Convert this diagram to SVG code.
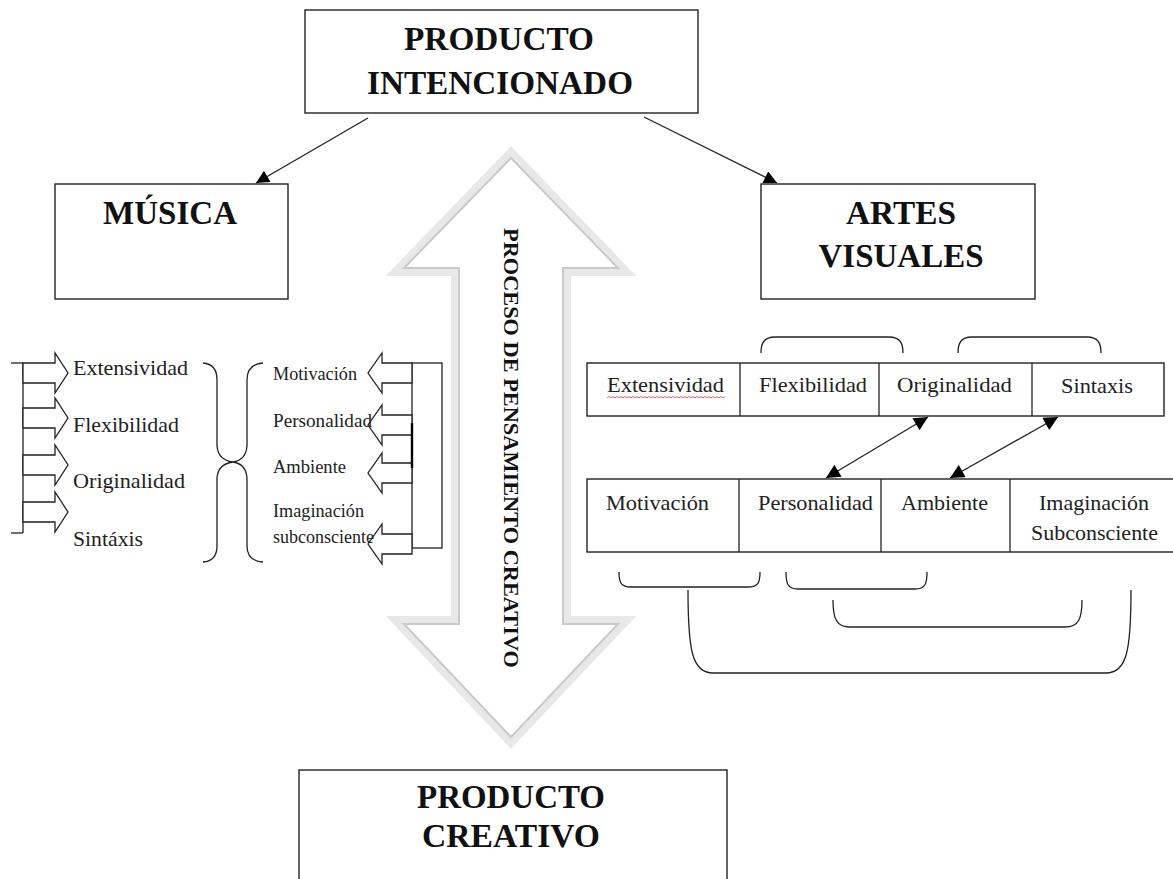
<svg xmlns="http://www.w3.org/2000/svg" width="1173" height="879" viewBox="0 0 1173 879">
<style>
.box{fill:#fff;stroke:#222;stroke-width:1.4}
.ln{fill:none;stroke:#222;stroke-width:1.3}
.blk{fill:#fff;stroke:#222;stroke-width:1.3;stroke-linejoin:miter}
.h{font-family:"Liberation Serif","Times New Roman",serif;font-weight:bold;font-size:34px;fill:#111;text-anchor:middle}
.t{font-family:"Liberation Serif","Times New Roman",serif;font-size:21px;fill:#222}
.s{font-family:"Liberation Serif","Times New Roman",serif;font-size:19px;fill:#222}
.c{font-family:"Liberation Serif","Times New Roman",serif;font-size:22px;fill:#222}
</style>
<defs>
<marker id="ah" viewBox="0 0 10 10" refX="10" refY="5" markerWidth="14" markerHeight="13" markerUnits="userSpaceOnUse" orient="auto-start-reverse">
<path d="M0,0 L10,5 L0,10 Z" fill="#000"/>
</marker>
<marker id="ah2" viewBox="0 0 10 10" refX="10" refY="5" markerWidth="15" markerHeight="14" markerUnits="userSpaceOnUse" orient="auto-start-reverse">
<path d="M0,0 L10,5 L0,10 Z" fill="#000"/>
</marker>
</defs>
<rect width="1173" height="879" fill="#fff"/>

<g id="proceso-arrow">
<path d="M511,152 L627,272 L567,272 L567,620 L627,620 L511,743 L395,620 L455,620 L455,272 L395,272 Z" fill="#fff" stroke="#e8e8e8" stroke-width="8" stroke-linejoin="miter"/>
<path d="M511,158 L618,268 L563,268 L563,624 L618,624 L511,737 L404,624 L459,624 L459,268 L404,268 Z" fill="none" stroke="#cacaca" stroke-width="2"/>
<text transform="translate(504,448) rotate(90)" font-family="'Liberation Serif','Times New Roman',serif" font-weight="bold" font-size="20" text-anchor="middle" fill="#111" textLength="440" lengthAdjust="spacingAndGlyphs">PROCESO DE PENSAMIENTO CREATIVO</text>
</g>

<g id="connectors">
<line class="ln" x1="368" y1="118" x2="256" y2="183" marker-end="url(#ah)"/>
<line class="ln" x1="644" y1="117" x2="777" y2="183" marker-end="url(#ah)"/>
<line class="ln" x1="826" y1="478" x2="928" y2="417" marker-start="url(#ah2)" marker-end="url(#ah2)"/>
<line class="ln" x1="950" y1="478" x2="1058" y2="417" marker-start="url(#ah2)" marker-end="url(#ah2)"/>
</g>

<g id="producto-intencionado">
<rect class="box" x="305" y="10" width="393" height="103"/>
<text class="h" x="499" y="50" textLength="190" lengthAdjust="spacingAndGlyphs">PRODUCTO</text>
<text class="h" x="500" y="94" textLength="266" lengthAdjust="spacingAndGlyphs">INTENCIONADO</text>
</g>

<g id="musica">
<rect class="box" x="55" y="184" width="233" height="115"/>
<text class="h" x="170" y="224" textLength="134" lengthAdjust="spacingAndGlyphs">MÚSICA</text>
</g>

<g id="artes-visuales">
<rect class="box" x="761" y="184" width="274" height="115"/>
<text class="h" x="901" y="224" textLength="110" lengthAdjust="spacingAndGlyphs">ARTES</text>
<text class="h" x="901" y="267" textLength="165" lengthAdjust="spacingAndGlyphs">VISUALES</text>
</g>

<g id="producto-creativo">
<rect class="box" x="299" y="770" width="428" height="120"/>
<text class="h" x="511" y="808" textLength="188" lengthAdjust="spacingAndGlyphs">PRODUCTO</text>
<text class="h" x="511" y="847" textLength="178" lengthAdjust="spacingAndGlyphs">CREATIVO</text>
</g>

<g id="musica-lista-izq">
<line class="ln" x1="11" y1="363" x2="23" y2="363"/>
<line class="ln" x1="11" y1="533" x2="23" y2="533"/>
<line class="ln" x1="23" y1="363" x2="23" y2="533"/>
<polygon class="blk" points="23,363 55,363 55,353 68,373 55,393 55,383 23,383"/>
<polygon class="blk" points="23,408 55,408 55,398 68,418 55,438 55,428 23,428"/>
<polygon class="blk" points="23,455 55,455 55,445 68,465 55,485 55,475 23,475"/>
<polygon class="blk" points="23,502 55,502 55,492 68,512 55,532 55,522 23,522"/>
<text class="t" x="73" y="375" textLength="115" lengthAdjust="spacingAndGlyphs">Extensividad</text>
<text class="t" x="73" y="432" textLength="106" lengthAdjust="spacingAndGlyphs">Flexibilidad</text>
<text class="t" x="73" y="488" textLength="112" lengthAdjust="spacingAndGlyphs">Originalidad</text>
<text class="t" x="73" y="546" textLength="70" lengthAdjust="spacingAndGlyphs">Sintáxis</text>
<path class="ln" d="M203,363 Q217,364 217,380 L217,446 Q218,460 233,462 Q218,464 217,478 L217,546 Q217,561 203,562"/>
<path class="ln" d="M263,363 Q247,364 247,380 L247,446 Q246,460 233,462 Q246,464 247,478 L247,546 Q247,561 263,562"/>
</g>

<g id="musica-lista-der">
<rect class="ln" x="412" y="363" width="30" height="185"/>
<polygon class="blk" points="412,363 382,363 382,353 368,373 382,393 382,383 412,383"/>
<polygon class="blk" points="412,415 382,415 382,405 368,425 382,445 382,435 412,435"/>
<polygon class="blk" points="412,463 382,463 382,453 368,473 382,493 382,483 412,483"/>
<polygon class="blk" points="412,534 382,534 382,524 368,544 382,564 382,554 412,554"/>
<line x1="412" y1="423" x2="412" y2="468" stroke="#000" stroke-width="2.4"/>
<text class="s" x="273" y="380" textLength="84" lengthAdjust="spacingAndGlyphs">Motivación</text>
<text class="s" x="273" y="427" textLength="99" lengthAdjust="spacingAndGlyphs">Personalidad</text>
<text class="s" x="273" y="473" textLength="73" lengthAdjust="spacingAndGlyphs">Ambiente</text>
<text class="s" x="273" y="517" textLength="91" lengthAdjust="spacingAndGlyphs">Imaginación</text>
<text class="s" x="273" y="543" textLength="101" lengthAdjust="spacingAndGlyphs">subconsciente</text>
</g>

<g id="tabla-superior">
<rect class="box" x="587" y="363" width="577" height="53"/>
<line class="ln" x1="740" y1="363" x2="740" y2="416"/>
<line class="ln" x1="879" y1="363" x2="879" y2="416"/>
<line class="ln" x1="1032" y1="363" x2="1032" y2="416"/>
<text class="t" x="607" y="392" textLength="117" lengthAdjust="spacingAndGlyphs">Extensividad</text>
<path d="M607,398 l2,-1.5 l2,1.5 l2,-1.5 l2,1.5 l2,-1.5 l2,1.5 l2,-1.5 l2,1.5 l2,-1.5 l2,1.5 l2,-1.5 l2,1.5 l2,-1.5 l2,1.5 l2,-1.5 l2,1.5 l2,-1.5 l2,1.5 l2,-1.5 l2,1.5 l2,-1.5 l2,1.5 l2,-1.5 l2,1.5 l2,-1.5 l2,1.5 l2,-1.5 l2,1.5 l2,-1.5 l2,1.5 l2,-1.5 l2,1.5 l2,-1.5 l2,1.5 l2,-1.5 l2,1.5 l2,-1.5 l2,1.5 l2,-1.5 l2,1.5 l2,-1.5 l2,1.5 l2,-1.5 l2,1.5 l2,-1.5 l2,1.5 l2,-1.5 l2,1.5 l2,-1.5 l2,1.5 l2,-1.5 l2,1.5 l2,-1.5 l2,1.5 l2,-1.5 l2,1.5 l2,-1.5 l2,1.5 l2,-1.5" fill="none" stroke="#d04040" stroke-width="0.8"/>
<text class="t" x="759" y="392" textLength="108" lengthAdjust="spacingAndGlyphs">Flexibilidad</text>
<text class="t" x="897" y="392" textLength="115" lengthAdjust="spacingAndGlyphs">Originalidad</text>
<text class="t" x="1061" y="393" textLength="72" lengthAdjust="spacingAndGlyphs">Sintaxis</text>
<path class="ln" d="M761,353 C761,343 764,337 775,337 L889,337 C900,337 903,343 903,353"/>
<path class="ln" d="M958,353 C958,343 961,337 972,337 L1087,337 C1098,337 1101,343 1101,353"/>
</g>

<g id="tabla-inferior">
<rect class="box" x="587" y="479" width="590" height="73"/>
<line class="ln" x1="739" y1="479" x2="739" y2="552"/>
<line class="ln" x1="881" y1="479" x2="881" y2="552"/>
<line class="ln" x1="1010" y1="479" x2="1010" y2="552"/>
<text class="c" x="606" y="510" textLength="103" lengthAdjust="spacingAndGlyphs">Motivación</text>
<text class="c" x="758" y="510" textLength="115" lengthAdjust="spacingAndGlyphs">Personalidad</text>
<text class="c" x="901" y="510" textLength="87" lengthAdjust="spacingAndGlyphs">Ambiente</text>
<text class="c" x="1039" y="510" textLength="110" lengthAdjust="spacingAndGlyphs">Imaginación</text>
<text class="c" x="1031" y="540" textLength="127" lengthAdjust="spacingAndGlyphs">Subconsciente</text>
<path class="ln" d="M619,572 C619,583 621,587 631,587 L748,587 C758,587 760,583 760,572"/>
<path class="ln" d="M786,572 C786,584 788,589 798,589 L915,589 C925,589 927,584 927,572"/>
<path class="ln" d="M833,600 C833,618 836,627 850,627 L1065,627 C1079,627 1082,618 1082,600"/>
<path class="ln" d="M688,590 C688,650 692,673 713,673 L1106,673 C1127,673 1131,650 1131,590"/>
</g>
</svg>
